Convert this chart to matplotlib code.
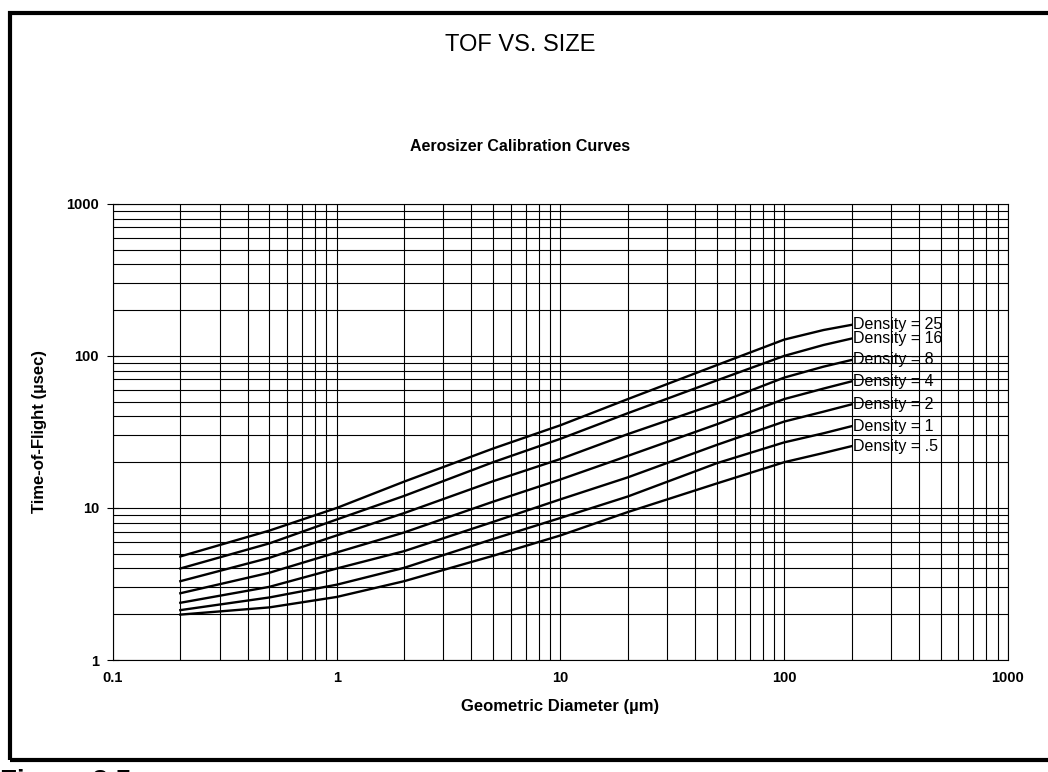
import matplotlib
matplotlib.use("Agg")
import matplotlib.pyplot as plt
from matplotlib.patches import Rectangle
from matplotlib.ticker import LogLocator, NullFormatter, FixedLocator

plt.rcParams['font.family'] = ['Liberation Sans Narrow', 'Liberation Sans', 'DejaVu Sans']

# diameters (um) where the curves were read
diam = [0.2, 0.5, 1, 2, 5, 10, 20, 50, 100, 150, 200]

# time-of-flight (usec) for each particle density
tof_25 = [4.8, 7.1, 10.0, 14.9, 24.6, 35, 52, 87, 128, 148, 160]
tof_16 = [4.0, 5.85, 8.4, 12.0, 20.0, 28.5, 42, 69, 100, 118, 130]
tof_8 = [3.3, 4.7, 6.6, 9.25, 15.0, 21, 30.6, 48.6, 72, 85, 94]
tof_4 = [2.75, 3.75, 5.1, 6.9, 11.0, 15.4, 22, 35.5, 52, 61, 68]
tof_2 = [2.38, 3.03, 4.0, 5.2, 8.1, 11.4, 15.9, 26, 37, 43, 48]
tof_1 = [2.13, 2.58, 3.13, 4.04, 6.25, 8.6, 11.9, 19.7, 27, 31, 34.5]
tof_05 = [1.99, 2.22, 2.6, 3.3, 4.85, 6.6, 9.4, 14.5, 20, 23, 25.5]

labels = ['Density = 25', 'Density = 16', 'Density = 8', 'Density = 4',
          'Density = 2', 'Density = 1', 'Density = .5']
series = [tof_25, tof_16, tof_8, tof_4, tof_2, tof_1, tof_05]

fig = plt.figure(figsize=(10.48, 7.72), dpi=100)
ax = fig.add_axes([0.1078, 0.145, 0.854, 0.591])

for vals, lab in zip(series, labels):
    ax.plot(diam, vals, color='black', lw=1.7)
    ax.text(diam[-1] * 1.02, vals[-1], lab, fontsize=11.5, va='center', ha='left',
            family=['Liberation Sans', 'DejaVu Sans'])

ax.set_xscale('log')
ax.set_yscale('log')
ax.set_xlim(0.1, 1000)
ax.set_ylim(1, 1000)

ax.xaxis.set_major_locator(FixedLocator([0.1, 1, 10, 100, 1000]))
ax.yaxis.set_major_locator(FixedLocator([1, 10, 100, 1000]))
ax.xaxis.set_minor_locator(LogLocator(base=10, subs=range(2, 10)))
ax.yaxis.set_minor_locator(LogLocator(base=10, subs=range(2, 10)))
ax.xaxis.set_minor_formatter(NullFormatter())
ax.yaxis.set_minor_formatter(NullFormatter())
ax.set_xticklabels(['0.1', '1', '10', '100', '1000'], fontweight='bold', fontsize=10.5)
ax.set_yticklabels(['1', '10', '100', '1000'], fontweight='bold', fontsize=10.5)

ax.grid(True, which='both', color='black', lw=0.8)
ax.tick_params(axis='y', which='major', direction='inout', length=8, width=0.8, pad=6)
ax.tick_params(axis='x', which='major', length=0, pad=8)
ax.tick_params(which='minor', length=0)
for s in ax.spines.values():
    s.set_linewidth(0.8)

ax.set_xlabel('Geometric Diameter (µm)', fontweight='bold', fontsize=12,
              family=['Liberation Sans', 'DejaVu Sans'], labelpad=10)
ax.set_ylabel('Time-of-Flight (µsec)', fontweight='bold', fontsize=12,
              family=['Liberation Sans', 'DejaVu Sans'], labelpad=14)

fig.text(0.496, 0.942, 'TOF VS. SIZE', ha='center', va='center', fontsize=17)
fig.text(0.496, 0.81, 'Aerosizer Calibration Curves', ha='center', va='center',
         fontsize=11.5, fontweight='bold')

# outer frame of the page
fig.patches.append(Rectangle((0.01, 0.015), 0.995, 0.968, transform=fig.transFigure,
                             fill=False, edgecolor='black', lw=3))
fig.text(0.0, 0.004, 'Figure 3.5', ha='left', va='top', fontsize=20, fontweight='bold',
         family=['Liberation Sans', 'DejaVu Sans'])

fig.savefig('out.png', dpi=100)
